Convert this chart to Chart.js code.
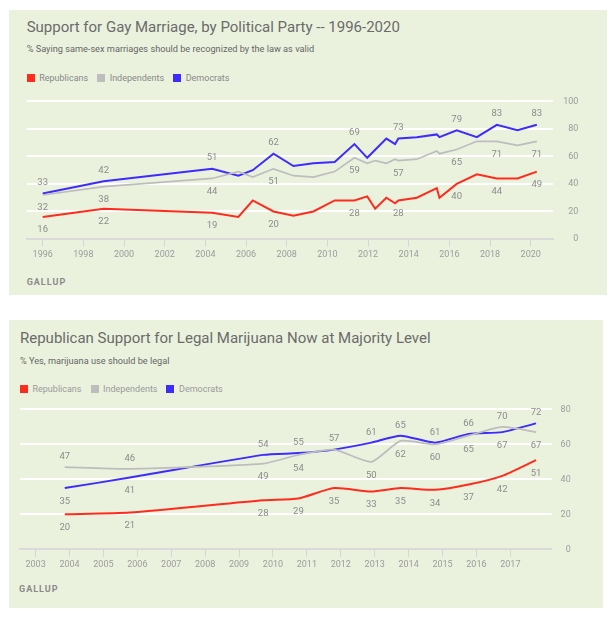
<!DOCTYPE html>
<html><head><meta charset="utf-8">
<script src="https://cdn.jsdelivr.net/npm/chart.js@4.4.1/dist/chart.umd.min.js"></script>
<style>
body{margin:0;background:#fff;width:614px;height:618px;position:relative;overflow:hidden;font-family:Roboto,"Noto Sans",sans-serif;}
.panel{position:absolute;background:#eaf2de;}
.t{position:absolute;white-space:nowrap;}
.title{font-size:15px;color:#6b6b6b;line-height:18px;}
.sub{font-size:9.2px;color:#666;line-height:12px;}
.leg{font-size:9px;line-height:12px;display:flex;align-items:center;}
.leg .box{display:inline-block;width:8px;height:8px;margin-right:4.5px;}
.leg .lab{margin-right:9px;}
.src{font-size:9px;font-weight:700;letter-spacing:1px;color:#8a8a8a;line-height:12px;}
canvas{position:absolute;}
</style></head>
<body>
<div class="panel" style="left:9px;top:10px;width:598px;height:285px"></div>
<div class="panel" style="left:9px;top:320px;width:594px;height:288px"></div>
<div class="t title" style="left:26.7px;top:17.7px">Support for Gay Marriage, by Political Party -- 1996-2020</div>
<div class="t sub" style="left:26.7px;top:43.3px">% Saying same-sex marriages should be recognized by the law as valid</div>
<div class="t leg" id="leg1" style="left:26.7px;top:71.7px;color:#888"></div>
<div class="t src" style="left:26.7px;top:275.7px">GALLUP</div>
<canvas id="c1" width="598" height="180" style="left:9px;top:86px;width:598px;height:180px"></canvas>

<div class="t title" style="left:20px;top:329.3px">Republican Support for Legal Marijuana Now at Majority Level</div>
<div class="t sub" style="left:20px;top:354.7px">% Yes, marijuana use should be legal</div>
<div class="t leg" id="leg2" style="left:20px;top:383px;color:#9a9a9a"></div>
<div class="t src" style="left:19px;top:583px">GALLUP</div>
<canvas id="c2" width="594" height="180" style="left:9px;top:395px;width:594px;height:180px"></canvas>

<script>
// ---- shared series ----
const seriesNames = ['Republicans', 'Independents', 'Democrats'];
const seriesColors = ['#ff2b1c', '#bdbdbd', '#3d2bff'];

// ---- Chart 1: gay marriage ----
const gmYears = [1996, 1999, 2004.33, 2005.62, 2006.33, 2007.35, 2008.33, 2009.31, 2010.36, 2011.33, 2011.96, 2012.35, 2012.9, 2013.33, 2013.49, 2014.4, 2015.38, 2015.51, 2016.36, 2017.35, 2018.33, 2019.35, 2020.3];
const gmRep = [16, 22, 19, 16, 28, 20, 17, 20, 28, 28, 31, 22, 30, 26, 28, 30, 37, 30, 40, 47, 44, 44, 49];
const gmInd = [32, 38, 44, 49, 45, 51, 46, 45, 49, 59, 55, 57, 55, 58, 57, 58, 64, 62, 65, 71, 71, 68, 71];
const gmDem = [33, 42, 51, 46, 50, 62, 53, 55, 56, 69, 59, null, 73, 69, 73, 74, 76, 74, 79, 74, 83, 79, 83];
const gmXTicks = [1996, 1998, 2000, 2002, 2004, 2006, 2008, 2010, 2012, 2014, 2016, 2018, 2020];
const gmYTicks = [0, 20, 40, 60, 80, 100];
// label placement: a = above, b = below, '' = none
const gmRepPos = ['b','b','b','','','b','','','','b','','','','','b','','','','b','','b','','b'];
const gmIndPos = ['b','b','b','','','b','','','','b','','','','','b','','','','b','','b','','b'];
const gmDemPos = ['a','a','a','','','a','','','','a','','','','','a','','','','a','','a','','a'];

// ---- Chart 2: marijuana ----
const mjYears = [2003.86, 2005.78, 2009.71, 2010.75, 2011.8, 2012.9, 2013.76, 2014.78, 2015.77, 2016.76, 2017.76];
const mjRep = [20, 21, 28, 29, 35, 33, 35, 34, 37, 42, 51];
const mjInd = [47, 46, 49, 54, 57, 50, 62, 60, 65, 70, 67];
const mjDem = [35, 41, 54, 55, 57, 61, 65, 61, 66, 67, 72];
const mjXTicks = [2003, 2004, 2005, 2006, 2007, 2008, 2009, 2010, 2011, 2012, 2013, 2014, 2015, 2016, 2017];
const mjYTicks = [0, 20, 40, 60, 80];
const mjRepPos = ['b','b','b','b','b','b','b','b','b','b','b'];
const mjIndPos = ['a','a','b','b','','b','b','b','b','a','b'];
const mjDemPos = ['b','b','a','a','a','a','a','a','a','b','a'];

function buildLegend(id) {
  const el = document.getElementById(id);
  seriesNames.forEach((n, i) => {
    const b = document.createElement('span'); b.className = 'box'; b.style.background = seriesColors[i];
    const t = document.createElement('span'); t.className = 'lab'; t.textContent = n;
    el.appendChild(b); el.appendChild(t);
  });
}
buildLegend('leg1'); buildLegend('leg2');

const pointLabels = {
  id: 'pointLabels',
  afterDatasetsDraw(chart, args, opts) {
    const ctx = chart.ctx;
    ctx.save();
    ctx.font = opts.font; ctx.fillStyle = opts.color;
    ctx.textAlign = 'center'; ctx.textBaseline = 'middle';
    chart.data.datasets.forEach((ds, di) => {
      const meta = chart.getDatasetMeta(di);
      meta.data.forEach((pt, i) => {
        const p = ds.labelPos[i];
        const v = ds.data[i].y;
        if (!p || v === null) return;
        ctx.fillText(String(v), pt.x, pt.y + (p === 'a' ? opts.above : opts.below));
      });
    });
    ctx.restore();
  }
};

function pts(xs, ys) { return xs.map((x, i) => ({x: x, y: ys[i]})); }

function makeChart(id, cfg) {
  const ds = [
    {label: seriesNames[0], data: pts(cfg.years, cfg.rep), borderColor: seriesColors[0], borderWidth: 2, labelPos: cfg.repPos},
    {label: seriesNames[1], data: pts(cfg.years, cfg.ind), borderColor: seriesColors[1], borderWidth: 1.7, labelPos: cfg.indPos},
    {label: seriesNames[2], data: pts(cfg.years, cfg.dem), borderColor: seriesColors[2], borderWidth: 2, labelPos: cfg.demPos}
  ];
  ds.forEach(d => { d.pointRadius = 0; d.spanGaps = true; d.tension = cfg.tension; d.fill = false; });
  const tickFont = {family: 'Roboto', size: 9};
  return new Chart(document.getElementById(id), {
    type: 'line',
    data: {datasets: ds},
    plugins: [pointLabels],
    options: {
      responsive: false, animation: false, devicePixelRatio: 1,
      layout: {padding: cfg.padding},
      plugins: {
        legend: {display: false}, tooltip: {enabled: false},
        pointLabels: {font: '9.5px Roboto', color: '#8c8c8c', above: cfg.above, below: cfg.below}
      },
      scales: {
        x: {
          type: 'linear', min: cfg.xmin, max: cfg.xmax,
          afterBuildTicks: s => { s.ticks = cfg.xTicks.map(v => ({value: v})); },
          afterFit: s => { s.height = cfg.xh; },
          grid: {drawOnChartArea: false, drawTicks: true, tickLength: 7.5, color: '#d6d6d6', lineWidth: 1},
          border: {display: true, color: '#dadada', width: 2},
          ticks: {font: tickFont, color: '#9c9c9c', padding: 3, maxRotation: 0, autoSkip: false, callback: v => String(v)}
        },
        y: {
          position: 'right', min: 0, max: cfg.ymax,
          afterBuildTicks: s => { s.ticks = cfg.yTicks.map(v => ({value: v})); },
          afterFit: s => { s.width = cfg.yw; },
          grid: {drawTicks: false, lineWidth: 2, color: c => (c.tick && c.tick.value === 0) ? 'rgba(0,0,0,0)' : '#ffffff'},
          border: {display: false},
          ticks: {font: tickFont, color: '#9c9c9c', padding: cfg.ypad, crossAlign: 'far', callback: v => String(v)}
        }
      }
    }
  });
}

makeChart('c1', {
  years: gmYears, rep: gmRep, ind: gmInd, dem: gmDem,
  repPos: gmRepPos, indPos: gmIndPos, demPos: gmDemPos,
  xTicks: gmXTicks, yTicks: gmYTicks, xmin: 1995.213, xmax: 2021.11, ymax: 100,
  padding: {left: 17.7, top: 10.7, right: 28.7, bottom: 0}, xh: 27, yw: 25, ypad: 10,
  above: -11, below: 13, tension: 0
});
makeChart('c2', {
  years: mjYears, rep: mjRep, ind: mjInd, dem: mjDem,
  repPos: mjRepPos, indPos: mjIndPos, demPos: mjDemPos,
  xTicks: mjXTicks, yTicks: mjYTicks, xmin: 2002.54, xmax: 2018.22, ymax: 80,
  padding: {left: 11, top: 12.3, right: 32.3, bottom: 0}, xh: 25.7, yw: 19, ypad: 9,
  above: -10.5, below: 13.5, tension: 0.2
});
</script>
</body></html>
